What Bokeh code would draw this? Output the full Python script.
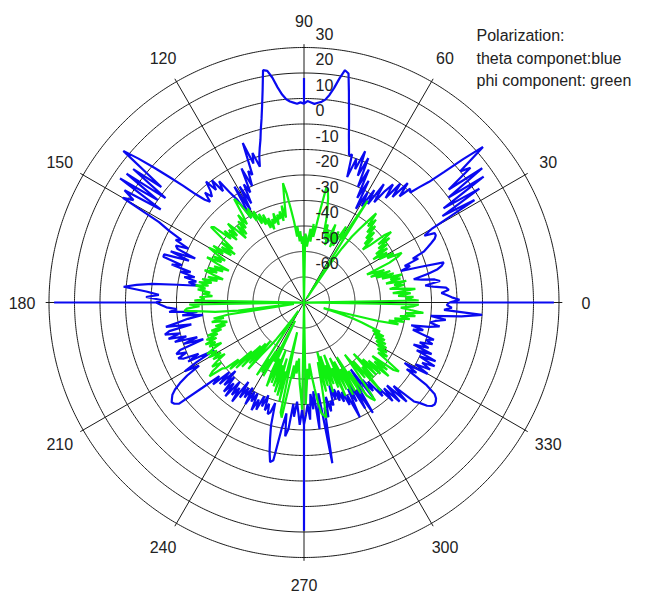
import numpy as np
from bokeh.plotting import figure
from bokeh.models import Label
from bokeh.embed import file_html
from bokeh.resources import INLINE
from bokeh.core.properties import value

# ---------------- data ----------------
R_MIN, R_MAX = -70, 30
ring_values = [-60, -50, -40, -30, -20, -10, 0, 10, 20, 30]
angle_ticks = [0, 30, 60, 90, 120, 150, 180, 210, 240, 270, 300, 330]

# theta component (blue), dB per degree 0..359
blue_db = [
    -13, -9, -12, -14, -16, -13, -14, -19, -22, -16,
    -18, -23, -26, -20, -16, -14, -13, -22, -30, -26,
    -28, -22, -24, -19, -17, -15, -13, -12, -12, -16,
    -12, 8, -6, 12, -4, 16, 0, 17.5, 2, 14,
    10, 23, 14, 5, -2, -6, -10, -9, -14, -8,
    -16, -10, -18, -12, -16, -22, -14, -24, -18, -26,
    -20, -28, -16, -24, -12, -20, -8, -16, -6, -14,
    -10, -18, -9, -9.6, -6, -2, 3, 8.4, 14.7, 21.5,
    22.5, 19, 15, 12, 10, 9, 8.5, 8, 8.5, 9,
    8, 8.5, 8, 8.5, 9, 10, 12, 15, 19, 22,
    22.5, 15, 9, 4, 0, -4, -7, -10, -14, -8,
    -12, -3, -16, -14, -20, -12, -22, -18, -26, -18,
    -28, -17, -31, -22, -18, -12, -16, -10, -14, -9,
    -13, -15, -12, -16, -14, -10, -4, 2, 9, 16,
    22.5, 2, 15, -2, 16, 0, 17, -3, 13, 8,
    12, -5, -10, -16, -14, -20, -15, -16, -24, -14,
    -22, -12, -12, -20, -16, -24, -20, -26, -22, -27,
    -24, -28, -20, -10, -4, 1, -8, -13, -8, -14,
    -12, -14, -16, -20, -17, -28, -22, -30, -24, -20,
    -15, -25, -16, -14, -20, -15, -22, -17, -26, -20,
    -28, -18, -16, -20, -16, -18, -24, -19, -30, -22,
    -16, -22, -16, -12, -9, -7, -6, -5, -5.5, -7,
    -18, -26, -22, -30, -24, -32, -25, -30, -23, -28,
    -22, -30, -24, -28, -22, -32, -25, -30, -26, -31,
    -24, -30, -26, -30, -23, -28, -24, -30, -26, -31,
    -25, -28, -24, -25, -29, -20, -15, -10, -6, -7,
    -20, -26, -17, -20, -30, -25, -31, -27, -22, -28,
    -22, -26, -30, -24, -34, -28, -35, -20, -30, -34,
    -6, -28, -24, -32, -26, -30, -28, -36, -30, -34,
    -29, -33, -28, -32, -26, -30, -20, -32, -26, -36,
    -22, -30, -19, -34, -28, -38, -24, -32, -26, -30,
    -22, -26, -18, -24, -16, -24, -14, -22, -12, -10,
    -7, -5.5, -5, -5.3, -6, -7.5, -12, -22, -18, -24,
    -14, -20, -14, -18, -13, -20, -13.5, -22, -16, -24,
    -18, -22, -17, -20, -17, -22, -26, -22, -27, -20,
    -16, -20, -18, -14, -20, -8, 0, -15, -12, -14,
]
blue_spike_deg = [0, 90, 180, 270]
blue_spike_db = [28, 18, 28, 19.5]

# phi component (green), dB per degree 0..359
green_db = [
    -70, -25, -30, -27, -33, -28, -35, -26, -31, -36,
    -30, -34, -29, -37, -31, -35, -30, -38, -33, -40,
    -34, -42, -36, -40, -43, -33, -29, -27, -33, -30,
    -36, -32, -38, -31, -36, -30, -34, -28, -33, -26,
    -29, -36, -39, -33, -37, -31, -35, -29, -33, -27,
    -31, -25, -30, -34, -38, -44, -52, -68, -23, -38,
    -42, -36, -41, -45, -39, -46, -40, -44, -37, -42,
    -46, -40, -44, -38, -42, -36, -32, -28, -25, -24,
    -33, -40, -44, -39, -46, -41, -45, -48, -44, -43,
    -70, -44, -47, -42, -46, -40, -44, -38, -33, -27,
    -22.5, -30, -36, -31, -37, -33, -36, -34, -38, -33,
    -37, -35, -39, -34, -38, -32, -36, -31, -35, -29,
    -33, -27, -31, -24, -21, -28, -32, -27, -33, -29,
    -35, -30, -36, -31, -27, -33, -29, -34, -28, -32,
    -24, -23, -30, -35, -30, -37, -31, -36, -28, -33,
    -27, -31, -35, -30, -34, -28, -33, -38, -32, -36,
    -30, -34, -29, -33, -37, -31, -35, -29, -33, -28,
    -32, -27, -31, -28, -33, -30, -34, -29, -31, -27,
    -70, -25, -29, -24, -23, -30, -35, -44, -66, -40,
    -34, -38, -33, -37, -39, -34, -38, -32, -36, -30,
    -34, -29, -33, -28, -32, -29, -34, -30, -27, -31,
    -27, -32, -28, -33, -29, -26, -30, -25, -23, -29,
    -30, -36, -31, -42, -33, -46, -35, -48, -38, -50,
    -36, -44, -48, -52, -58, -62, -66, -36, -44, -38,
    -48, -37, -50, -44, -62, -40, -34, -46, -36, -50,
    -35, -44, -33, -47, -32, -42, -30, -58, -26, -24,
    -38, -45, -40, -47, -42, -48, -43, -38, -34, -28,
    -70, -30, -38, -44, -40, -46, -41, -36, -30, -26,
    -25, -24, -36, -46, -34, -50, -36, -48, -33, -44,
    -36, -48, -34, -42, -30, -46, -32, -44, -29, -40,
    -30, -45, -28, -38, -26, -24, -22.5, -34, -44, -32,
    -40, -24, -36, -30, -42, -30, -38, -29, -36, -26,
    -34, -28, -36, -26, -24, -30, -35, -31, -36, -32,
    -37, -33, -38, -34, -39, -35, -40, -36, -41, -38,
    -43, -46, -50, -56, -62, -56, -40, -32, -36, -30,
    -34, -28, -32, -26, -30, -23, -28, -32, -27, -25,
]

legend_lines = ["Polarization:", "theta componet:blue", "phi component: green"]

# ---------------- geometry ----------------
PX = 2.55                 # pixels per dB
W, H = 652, 593
CX, CY = 303.5, 302.0     # centre in frame pixels (from top-left)
FONT = "Liberation Sans"


def to_xy(deg, db):
    r = np.clip(np.asarray(db, float) - R_MIN, 0, None)
    t = np.radians(np.asarray(deg, float))
    return r * np.cos(t), r * np.sin(t)


def build_trace(db, spike_deg=(), spike_db=()):
    spikes = dict(zip(spike_deg, spike_db))
    th, vv = [], []
    for a in range(360):
        th.append(a); vv.append(db[a])
        if a in spikes:
            th.append(a); vv.append(spikes[a])
            th.append(a); vv.append(db[a])
    th.append(360); vv.append(db[0])
    return to_xy(th, vv)


p = figure(frame_width=W, frame_height=H, output_backend="svg",
           toolbar_location=None, min_border=0,
           x_range=(-CX / PX, (W - CX) / PX),
           y_range=(-(H - CY) / PX, CY / PX))
p.axis.visible = False
p.grid.visible = False
p.outline_line_color = None
p.background_fill_color = "white"
p.border_fill_color = "white"

grid_col = "#1a1a1a"
rmax = R_MAX - R_MIN
# rings
for rv in ring_values:
    tt = np.linspace(0, 2 * np.pi, 721)
    rr = rv - R_MIN
    p.line(rr * np.cos(tt), rr * np.sin(tt), line_color=grid_col, line_width=1)
# spokes
ang = np.radians(angle_ticks)
p.segment(x0=np.zeros(len(ang)), y0=np.zeros(len(ang)),
          x1=(rmax + 1.3) * np.cos(ang), y1=(rmax + 1.3) * np.sin(ang),
          line_color=grid_col, line_width=1)

# data
bx, by = build_trace(blue_db, blue_spike_deg, blue_spike_db)
p.line(bx, by, line_color="#0a0af0", line_width=2.2)
gx, gy = build_trace(green_db)
p.line(gx, gy, line_color="#10f010", line_width=2.2)

# angle labels
lab_r = 282 / PX
p.text(x=lab_r * np.cos(ang), y=lab_r * np.sin(ang),
       text=[str(a) for a in angle_ticks],
       text_font=value(FONT), text_font_size="16px", text_color="#222222",
       text_align="center", text_baseline="middle")

# radial labels
p.text(x=[11.5 / PX] * len(ring_values),
       y=[rv - R_MIN for rv in ring_values],
       text=[str(v) for v in ring_values],
       text_font=value(FONT), text_font_size="16px", text_color="#222222",
       text_align="left", text_baseline="middle", y_offset=-14)

# legend text
for i, s in enumerate(legend_lines):
    p.add_layout(Label(x=476, y=H - 35 - 22.5 * i, x_units="screen", y_units="screen",
                       text=s, text_font=FONT, text_font_size="16px",
                       text_color="#222222", text_baseline="alphabetic"))

open("out.html", "w").write(file_html(p, INLINE))
